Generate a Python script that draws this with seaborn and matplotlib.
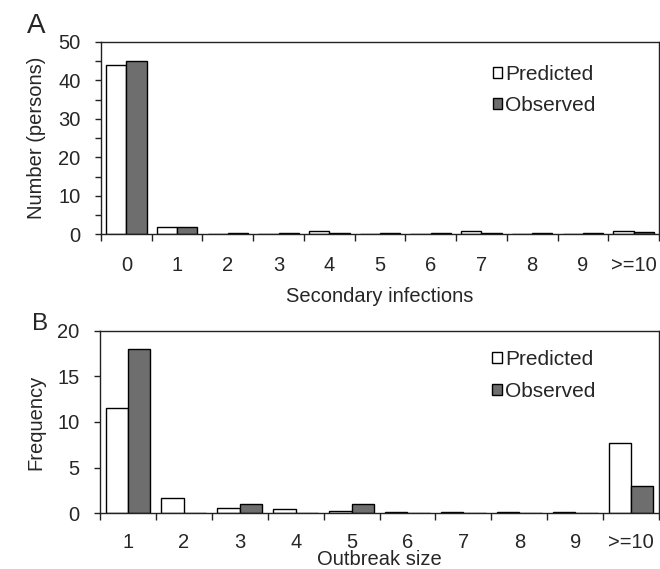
import matplotlib
matplotlib.use("Agg")
import matplotlib.pyplot as plt
import seaborn as sns
import pandas as pd
from matplotlib.patches import Patch
from matplotlib.ticker import MultipleLocator, FuncFormatter, FixedLocator

# ---- data ----
cats_a = ["0", "1", "2", "3", "4", "5", "6", "7", "8", "9", ">=10"]
pred_a = [44, 2, 0, 0, 1, 0, 0, 1, 0, 0, 1]
obs_a = [45, 2, 0.3, 0.3, 0.3, 0.3, 0.3, 0.3, 0.3, 0.3, 0.6]

cats_b = ["1", "2", "3", "4", "5", "6", "7", "8", "9", ">=10"]
pred_b = [11.5, 1.6, 0.6, 0.4, 0.25, 0.1, 0.1, 0.1, 0.1, 7.7]
obs_b = [18, 0, 1, 0, 1, 0, 0, 0, 0, 3]

series = ["Predicted", "Observed"]
colors = {"Predicted": "white", "Observed": "#6e6e6e"}

sns.set_style("white")
plt.rcParams["font.family"] = ["Liberation Sans", "DejaVu Sans"]
plt.rcParams["axes.linewidth"] = 1.0
plt.rcParams["axes.edgecolor"] = "#222222"

FS = 14.5

fig = plt.figure(figsize=(6.6, 5.69), dpi=100)
axA = fig.add_axes([0.1530, 0.5879, 0.8455, 0.3383])
axB = fig.add_axes([0.1515, 0.0984, 0.8470, 0.3199])


def make_df(cats, pred, obs):
    return pd.DataFrame({
        "cat": cats * 2,
        "val": list(pred) + list(obs),
        "series": [series[0]] * len(cats) + [series[1]] * len(cats),
    })


def draw(ax, cats, pred, obs, ymax, major, minor, xlabel, ylabel, xlabelpad,
         leg_y, tickpad):
    df = make_df(cats, pred, obs)
    sns.barplot(data=df, x="cat", y="val", hue="series", order=cats,
                hue_order=series, palette=colors, edgecolor="black",
                linewidth=1.0, width=0.8, saturation=1, ax=ax, legend=False)
    n = len(cats)
    ax.set_xlim(-0.5, n - 0.5)
    ax.set_ylim(0, ymax)
    # category labels at centers, tick marks at boundaries
    ax.xaxis.set_major_locator(FixedLocator(list(range(n))))
    ax.set_xticklabels(cats)
    ax.xaxis.set_minor_locator(FixedLocator([i - 0.5 for i in range(n + 1)]))
    ax.tick_params(axis="x", which="major", length=0, pad=tickpad, labelsize=FS)
    ax.tick_params(axis="x", which="minor", length=5, width=1.0,
                   direction="out", bottom=True, color="#222222")
    ax.yaxis.set_major_locator(MultipleLocator(major))
    ax.yaxis.set_minor_locator(MultipleLocator(minor))
    ax.tick_params(axis="y", which="both", length=4.3, width=1.0,
                   direction="out", left=True, color="#222222")
    ax.tick_params(axis="y", which="major", pad=10.5, labelsize=FS)
    ax.yaxis.set_major_formatter(FuncFormatter(lambda v, p: f"{int(round(v))}"))
    ax.set_xlabel(xlabel, fontsize=FS, labelpad=xlabelpad)
    ax.set_ylabel(ylabel, fontsize=FS, labelpad=8.6)
    for s in ax.spines.values():
        s.set_visible(True)
    handles = [Patch(facecolor=colors[s], edgecolor="black", linewidth=1.0)
               for s in series]
    ax.legend(handles, series, loc="upper left", bbox_to_anchor=(0.702, leg_y),
              frameon=False, fontsize=15, handlelength=0.45, handleheight=0.45,
              handletextpad=0.15, labelspacing=0.6, borderpad=0,
              borderaxespad=0)


draw(axA, cats_a, pred_a, obs_a, 50, 10, 5, "Secondary infections",
     "Number (persons)", 8.5, 0.882, 15.5)
draw(axB, cats_b, pred_b, obs_b, 20, 5, 5, "Outbreak size", "Frequency", -1.2,
     0.895, 14.3)

fig.text(0.041, 1 - 33 / 569, "A", fontsize=20, va="baseline", ha="left")
fig.text(0.0485, 1 - 330 / 569, "B", fontsize=17.5, va="baseline", ha="left")

fig.savefig("out.png", dpi=100)
